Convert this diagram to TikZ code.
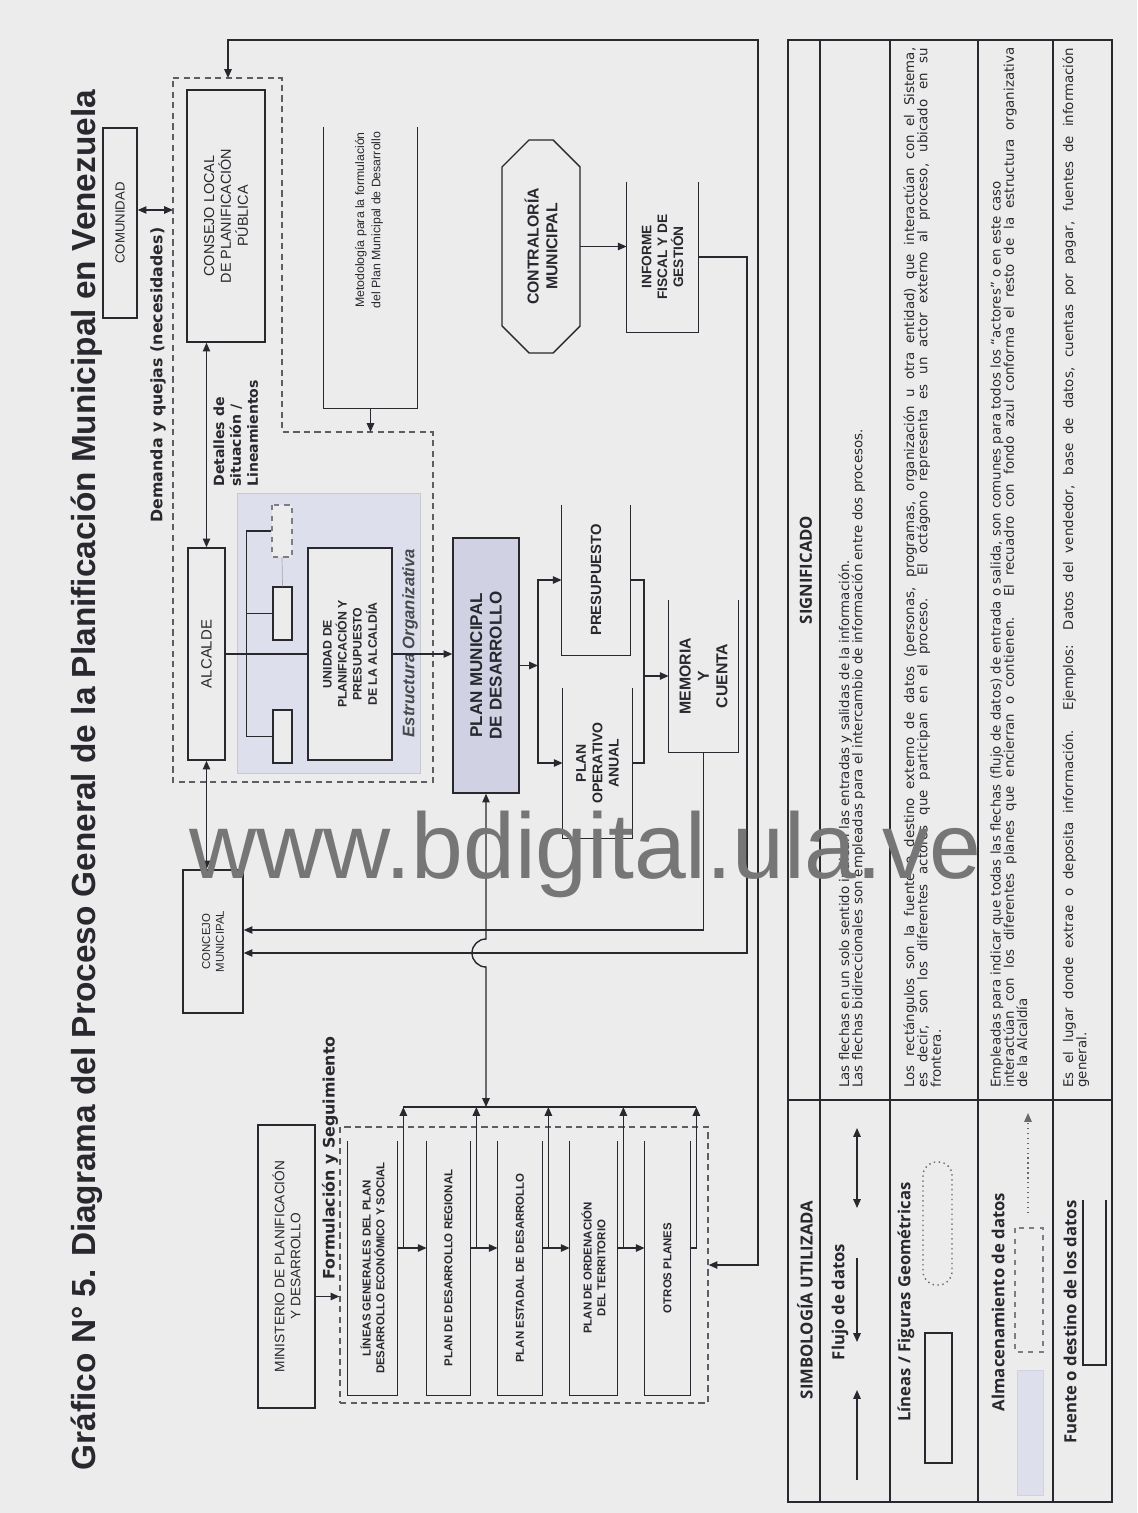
\documentclass[tikz,border=0pt]{standalone}
\usepackage{fontspec}
\setmainfont{Liberation Sans}
\newfontfamily\legfont{Open Sans}
\newfontfamily\tagfont{DejaVu Sans}
\usetikzlibrary{arrows.meta,calc}
\definecolor{paper}{RGB}{236,236,236}
\definecolor{ink}{RGB}{40,40,46}
\definecolor{azul}{RGB}{221,223,236}
\definecolor{azuld}{RGB}{208,210,227}
\definecolor{marca}{RGB}{118,118,118}
\tikzset{>={Triangle[length=5pt,width=4.2pt]},
  every node/.style={font=\fontsize{8}{9.4}\selectfont,text=ink},
  wh/.style 2 args={minimum width=#1*0.02cm,minimum height=#2*0.02cm},
  box/.style={draw=ink,fill=paper,line width=.8pt,rotate=90,inner sep=0pt,align=center},
  store/.style={rotate=90,inner sep=0pt,align=center,font=\bfseries\fontsize{6.5}{7.8}\selectfont},
  wire/.style={draw=ink,line width=.8pt},
  flow/.style={wire,->},
  flow2/.style={wire,<->},
  grp/.style={draw=ink!75,line width=.7pt,dash pattern=on 3.5pt off 2.5pt},
  tag/.style={rotate=90,align=left,font=\tagfont\bfseries\fontsize{9}{10.5}\selectfont},
  ltit/.style={rotate=90,font=\legfont\bfseries\fontsize{9.5}{10.5}\selectfont},
  ltxt/.style={rotate=90,anchor=north west,inner sep=0pt,text width=20.8cm,align=justify,
    font={\tagfont\fontsize{7.6}{7.6}\selectfont\lineskiplimit=-10pt}}}

\begin{document}
\begin{tikzpicture}[x=0.02cm,y=-0.02cm]
\fill[paper] (0,0) rectangle (1137,1513);
\useasboundingbox (0,0) rectangle (1137,1513);
% Título (la lámina va girada)
\node[rotate=90,anchor=base,font=\bfseries\fontsize{19}{22}\selectfont] (titulo) at (95,780)
  {Gráfico N° 5. Diagrama del Proceso General de la Planificación Municipal en Venezuela};

% Fondo de la estructura organizativa y grupo del consejo local
\fill[azul] (237,493) rectangle (420,773);
\draw[ink!25] (237,493) rectangle (420,773);
\draw[grp] (173,78) -- (282,78) -- (282,432) -- (433,432) -- (433,782) -- (173,782) -- cycle;
\coordinate (gtop) at (228,78);
\coordinate (gleft) at (173,210);
\coordinate (gstep) at (372,432);

% Actores
\node[box,wh={190}{34},font=\fontsize{7.5}{9}\selectfont] (comunidad) at (120,223) {COMUNIDAD};
\node[box,wh={252}{78},font=\fontsize{8.2}{9.6}\selectfont] (clpp) at (226,216) {CONSEJO LOCAL\\DE PLANIFICACIÓN\\PÚBLICA};
\node[box,wh={212}{37},font=\fontsize{8.5}{10}\selectfont] (alcalde) at (206.5,654) {ALCALDE};
\node[box,wh={143}{60},font=\fontsize{6.5}{7.8}\selectfont] (concejo) at (213,941.5) {CONCEJO\\MUNICIPAL};
\node[box,wh={212}{84},font=\bfseries\fontsize{7}{8.6}\selectfont] (unidad) at (350,654) {UNIDAD DE\\PLANIFICACIÓN Y\\PRESUPUESTO\\DE LA ALCALDÍA};
\node[box,wh={52}{20},draw=ink!60,dashed] (sb1) at (282,531) {};
\node[box,wh={53}{19}] (sb2) at (282.5,613.5) {};
\node[box,wh={53}{19}] (sb3) at (282.5,736.5) {};
\node[box,wh={283}{57},font=\fontsize{7.8}{9.2}\selectfont] (minis) at (286.5,1266.5) {MINISTERIO DE PLANIFICACIÓN\\Y DESARROLLO};
\node[box,wh={255}{66},fill=azuld,font=\bfseries\fontsize{9.7}{11.2}\selectfont] (pmd) at (486,665.5) {PLAN MUNICIPAL\\DE DESARROLLO};
\draw[wire,fill=paper] (502,167) -- (502,326) -- (529,353) -- (553,353) -- (580,326) -- (580,167) -- (553,140) -- (529,140) -- cycle;
\node[rotate=90,inner sep=0pt,wh={213}{78},align=center,font=\bfseries\fontsize{9}{10.6}\selectfont] (contra) at (541,246.5) {CONTRALORÍA\\MUNICIPAL};

% Almacenes de datos
\node[store,wh={281}{93}] (meto) at (370.5,267.5) {};
\node[rotate=90,align=center,font=\fontsize{7}{9.2}\selectfont] (metotxt) at (369,220) {Metodología para la formulación\\del Plan Municipal de Desarrollo};
\node[store,wh={150}{71},font=\bfseries\fontsize{7.8}{9}\selectfont] (informe) at (662.5,257) {INFORME\\FISCAL Y DE\\GESTIÓN};
\node[store,wh={150}{68},font=\bfseries\fontsize{8.4}{10}\selectfont] (presup) at (596,580) {PRESUPUESTO};
\node[store,wh={150}{69},font=\bfseries\fontsize{8}{9.3}\selectfont] (poa) at (597.5,763) {PLAN\\OPERATIVO\\ANUAL};
\node[store,wh={152}{69},font=\bfseries\fontsize{9}{10.5}\selectfont] (memoria) at (703.5,676) {MEMORIA\\Y\\CUENTA};
\node[grp,inner sep=0pt,minimum width=368*0.02cm,minimum height=276*0.02cm] (planes) at (524,1265) {};
\node[store,wh={254}{49}] (lineas) at (372.5,1268) {LÍNEAS GENERALES DEL PLAN\\DESARROLLO ECONÓMICO Y SOCIAL};
\node[store,wh={254}{43}] (regional) at (448.5,1268) {PLAN DE DESARROLLO REGIONAL};
\node[store,wh={254}{44}] (estadal) at (520,1268) {PLAN ESTADAL DE DESARROLLO};
\node[store,wh={254}{47}] (ordenacion) at (593.5,1268) {PLAN DE ORDENACIÓN\\DEL TERRITORIO};
\node[store,wh={254}{45}] (otros) at (667.5,1268) {OTROS PLANES};
\foreach \n in {meto,informe,presup,poa,memoria,lineas,regional,estadal,ordenacion,otros}
  \draw[wire] (\n.north east) -- (\n.north west) -- (\n.south west) -- (\n.south east);

% Estructura organizativa
\draw[wire] (alcalde.south) -- (unidad.north);
\draw[wire,line width=.6pt] (sb1.north) -- ++(-25,0) |- (sb3.north);
\draw[wire,line width=.6pt] (sb2.north) -- ++(-26,0);
\draw[ink!40] (sb1.west) -- (sb2.east);
\node[rotate=90,font=\bfseries\itshape\fontsize{9.5}{11}\selectfont,text=ink!85] (estr) at (410,643) {Estructura Organizativa};

% Etiquetas
\node[tag] (demanda) at (158,375) {Demanda y quejas (necesidades)};
\node[tag,anchor=north west,inner sep=0pt,font=\tagfont\bfseries\fontsize{8}{9.6}\selectfont] (detalles) at (213,487) {Detalles de\\situación /\\Lineamientos};
\node[tag] (formul) at (330,1158) {Formulación y Seguimiento};

% Flujos
\draw[flow2] (comunidad.south |- gleft) -- (gleft);
\draw[flow2] (alcalde.east |- clpp.west) -- (alcalde.east);
\draw[flow2] (alcalde.west) -- (alcalde.west |- concejo.east);
\draw[flow] (meto.west) -- (meto.west |- gstep);
\draw[flow] (unidad.south) -- (unidad.south -| pmd.north);
\coordinate (fork) at (538,665.5);
\draw[flow] (pmd.south) -- (fork);
\draw[flow] (fork) |- (presup.north);
\draw[flow] (fork) |- (poa.north);
\coordinate (join) at (644,676);
\draw[wire] (presup.south) -| (join);
\draw[wire] (poa.south) -| (join);
\draw[flow] (join) -- (memoria.north);
\draw[flow] (contra.south) -- (contra.south -| informe.north);
\coordinate (rinf) at (747,953);
\draw[flow] (informe.south) -| (rinf) -- (rinf -| concejo.south);
\coordinate (rmem) at (703.5,930);
\draw[flow] (memoria.west) -- (rmem) -- (rmem -| concejo.south);
\coordinate (bus) at (486,1107);
\draw[flow2] (pmd.west) -- (486,939) arc[start angle=90,end angle=270,radius=0.28cm] -- (bus);
\coordinate (flowy) at (0,1248);
\foreach \a/\b in {lineas/regional,regional/estadal,estadal/ordenacion,ordenacion/otros}{
  \draw[flow] (\a.south |- flowy) -- (\b.north |- flowy);
  \draw[flow] ($(\a.south |- flowy)+(6,0)$) -- ($(\a.south |- bus)+(6,0)$);}
\draw[flow] (otros.south |- flowy) -- ++(6,0) -- ($(otros.south |- bus)+(6,0)$);
\draw[wire] ($(lineas.south |- bus)+(6,0)$) -- ($(otros.south |- bus)+(6,0)$);
\draw[flow] ($(minis.south)+(0,30)$) -- ($(minis.south -| planes.west)+(0,30)$);
\coordinate (lp) at (758,40);
\draw[flow2] (planes.east) -| (lp) -| (gtop);

% Simbología
\draw[ink,line width=.6pt] (788,40) rectangle (1112,1502);
\foreach \r in {820,890,978,1053}
  \draw[ink,line width=.6pt] (\r,40) -- (\r,1502);
\draw[ink,line width=.6pt] (788,1100) -- (1112,1100);
\node[ltit] (simb) at (805,1300) {SIMBOLOGÍA UTILIZADA};
\node[ltit] (sig) at (806,570) {SIGNIFICADO};
\node[ltit] (flujo) at (840,1302) {Flujo de datos};
\node[ltit] (figuras) at (906,1302) {Líneas / Figuras Geométricas};
\node[ltit] (almac) at (998,1302) {Almacenamiento de datos};
\node[ltit] (fuente) at (1070,1322) {Fuente o destino de los datos};
\coordinate (f1a) at (857,1480); \coordinate (f1b) at (857,1390);
\coordinate (f2a) at (857,1258); \coordinate (f2b) at (857,1342);
\coordinate (f3a) at (857,1128); \coordinate (f3b) at (857,1208);
\draw[flow] (f1a) -- (f1b);
\draw[flow] (f2a) -- (f2b);
\draw[flow2] (f3a) -- (f3b);
\draw[wire] (925,1333) rectangle (952,1463);
\draw[ink!70,line width=.8pt,dotted,rounded corners=0.27cm] (923,1162) rectangle (952,1285);
\draw[fill=azul,draw=azuld] (1017,1370) rectangle (1043,1495);
\draw[ink!60,line width=.7pt,dashed] (1015,1228) rectangle (1043,1352);
\coordinate (f4a) at (1028,1213); \coordinate (f4b) at (1028,1113);
\draw[ink!70,line width=.8pt,dotted,->] (f4a) -- (f4b);
\draw[wire] (1083,1200) -- (1083,1365) -- (1106,1365) -- (1106,1200);
\node[ltxt] (t1) at (838,1088) {Las flechas en un solo sentido indican las entradas y salidas de la información.\\Las flechas bidireccionales son empleadas para el intercambio de información entre dos procesos.};
\node[ltxt] (t2) at (903,1088) {\tolerance=10000\hbadness=10000 Los rectángulos son la fuente o destino externo de datos (personas, programas, organización u otra entidad) que interactúan con el Sistema,\linebreak es decir, son los diferentes actores que participan en el proceso. El octágono representa es un actor externo al proceso, ubicado en su\linebreak frontera.};
\node[ltxt] (t3) at (990,1088) {\tolerance=10000\hbadness=10000 Empleadas para indicar que todas las flechas (flujo de datos) de entrada o salida, son comunes para todos los “actores” o en este caso\\interactúan con los diferentes planes que encierran o contienen. El recuadro con fondo azul conforma el resto de la estructura organizativa\linebreak de la Alcaldía};
\node[ltxt] (t4) at (1062,1088) {\tolerance=10000\hbadness=10000 Es el lugar donde extrae o deposita información. Ejemplos: Datos del vendedor, base de datos, cuentas por pagar, fuentes de información\linebreak general.};

% Marca de agua
\node[font=\fontsize{53}{60}\selectfont,text=marca,anchor=base] (marca) at (585,878) {www.bdigital.ula.ve};
\end{tikzpicture}
\end{document}
